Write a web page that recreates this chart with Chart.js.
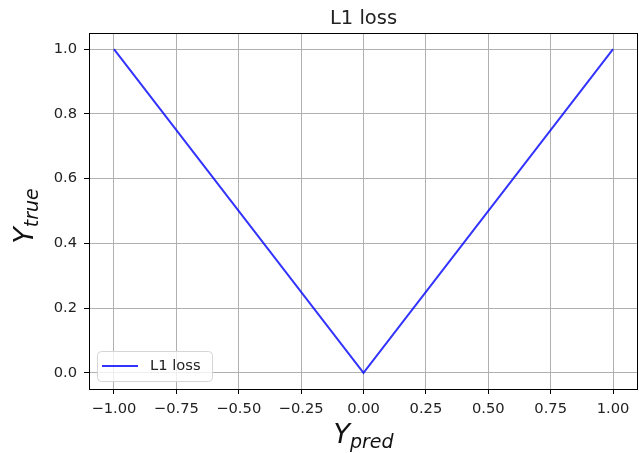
<!DOCTYPE html>
<html>
<head>
<meta charset="utf-8">
<script src="https://cdn.jsdelivr.net/npm/chart.js@4.4.1/dist/chart.umd.min.js"></script>
<style>
  body { margin: 0; background: #fff; }
</style>
</head>
<body>
<canvas id="lossChart" width="639" height="453"></canvas>
<script>
// data
const predValues = [-1, 0, 1];
const lossValues = [1, 0, 1];
const xTicks = [-1, -0.75, -0.5, -0.25, 0, 0.25, 0.5, 0.75, 1];
const yTicks = [0, 0.2, 0.4, 0.6, 0.8, 1];
const seriesName = "L1 loss";
const chartTitle = "L1 loss";

const FONT = "'DejaVu Sans', sans-serif";
const lineColor = "rgba(0, 0, 255, 0.8)";

// draws Y with a smaller subscript, starting at (0,0) baseline
function mathLabel(ctx, main, sub) {
  ctx.font = "italic 27px " + FONT;
  const w1 = ctx.measureText(main).width;
  ctx.font = "italic 19px " + FONT;
  const w2 = ctx.measureText(sub).width;
  return {
    width: w1 + w2,
    draw(x, y) {
      ctx.textBaseline = "alphabetic";
      ctx.textAlign = "left";
      ctx.font = "italic 27px " + FONT;
      ctx.fillText(main, x, y);
      ctx.font = "italic 19px " + FONT;
      ctx.fillText(sub, x + w1, y + 5);
    },
  };
}

const extras = {
  id: "extras",
  afterDraw(chart) {
    const ctx = chart.ctx;
    const a = chart.chartArea;
    ctx.save();

    // axes frame
    ctx.strokeStyle = "#000";
    ctx.lineWidth = 1;
    ctx.strokeRect(Math.round(a.left) + 0.5, Math.round(a.top) + 0.5,
      Math.round(a.right - a.left) - 1, Math.round(a.bottom - a.top));

    // title centred over the plot area
    ctx.fillStyle = "#222";
    ctx.font = "19.5px " + FONT;
    ctx.textAlign = "center";
    ctx.textBaseline = "alphabetic";
    ctx.fillText(chartTitle, (a.left + a.right) / 2, 24);

    // legend box (lower left)
    const lx = a.left + 8, ly = a.bottom - 38, lw = 115, lh = 30;
    ctx.beginPath();
    ctx.roundRect(lx + 0.5, ly + 0.5, lw, lh, 4);
    ctx.fillStyle = "rgba(255,255,255,0.8)";
    ctx.fill();
    ctx.strokeStyle = "#d5d5d5";
    ctx.stroke();
    ctx.beginPath();
    ctx.moveTo(lx + 5, ly + 15);
    ctx.lineTo(lx + 41, ly + 15);
    ctx.strokeStyle = lineColor;
    ctx.lineWidth = 2;
    ctx.stroke();
    ctx.fillStyle = "#222";
    ctx.font = "14.7px " + FONT;
    ctx.textBaseline = "middle";
    ctx.textAlign = "left";
    ctx.fillText(seriesName, lx + 53, ly + 15);

    // axis labels
    ctx.fillStyle = "#111";
    const xl = mathLabel(ctx, "Y", "pred");
    xl.draw((a.left + a.right) / 2 - xl.width / 2, 443);

    const yl = mathLabel(ctx, "Y", "true");
    ctx.translate(33, 216);
    ctx.rotate(-Math.PI / 2);
    yl.draw(-yl.width / 2, 0);
    ctx.restore();
  },
};

new Chart(document.getElementById("lossChart"), {
  type: "line",
  data: {
    datasets: [
      {
        label: seriesName,
        data: predValues.map((x, i) => ({ x: x, y: lossValues[i] })),
        borderColor: lineColor,
        borderWidth: 2,
        pointRadius: 0,
        tension: 0,
        fill: false,
      },
    ],
  },
  options: {
    responsive: false,
    animation: false,
    layout: { padding: { left: 0, right: 1, top: 33, bottom: 0 } },
    plugins: {
      legend: { display: false },
      tooltip: { enabled: false },
      title: { display: false },
    },
    scales: {
      x: {
        type: "linear",
        min: -1.1,
        max: 1.1,
        afterBuildTicks: (s) => { s.ticks = xTicks.map((v) => ({ value: v })); },
        afterFit: (s) => { s.height = 64; },
        border: { display: false },
        grid: { color: "#b0b0b0", lineWidth: 1, tickColor: "#000", tickLength: 5 },
        ticks: {
          color: "#222",
          font: { family: FONT, size: 14.7 },
          padding: 6,
          maxRotation: 0,
          autoSkip: false,
          callback: (v) => v.toFixed(2).replace("-", "\u2212"),
        },
      },
      y: {
        type: "linear",
        min: -0.05,
        max: 1.05,
        afterBuildTicks: (s) => { s.ticks = yTicks.map((v) => ({ value: v })); },
        afterFit: (s) => { s.width = 89; },
        border: { display: false },
        grid: { color: "#b0b0b0", lineWidth: 1, tickColor: "#000", tickLength: 5 },
        ticks: {
          color: "#222",
          font: { family: FONT, size: 14.7 },
          padding: 7,
          autoSkip: false,
          callback: (v) => v.toFixed(1),
        },
      },
    },
  },
  plugins: [extras],
});
</script>
</body>
</html>
